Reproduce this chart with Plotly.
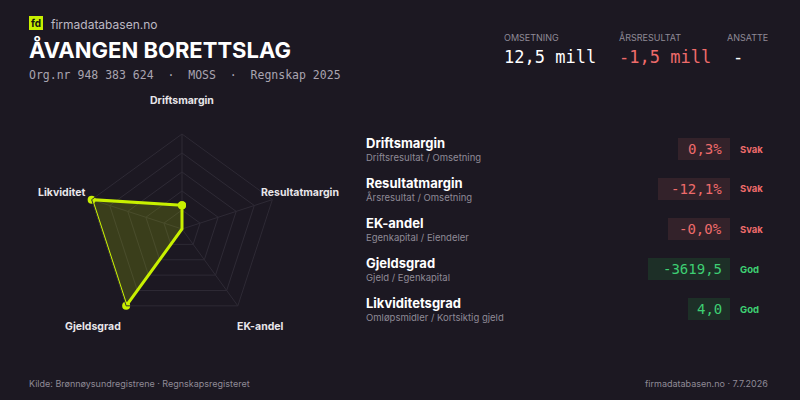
import plotly.graph_objects as go

axes = ["Driftsmargin", "Resultatmargin", "EK-andel", "Gjeldsgrad", "Likviditet"]
scores = [25, 0, 0, 100, 100]

metric_names = ["Driftsmargin", "Resultatmargin", "EK-andel", "Gjeldsgrad", "Likviditetsgrad"]
metric_desc = ["Driftsresultat / Omsetning", "Årsresultat / Omsetning", "Egenkapital / Eiendeler",
               "Gjeld / Egenkapital", "Omløpsmidler / Kortsiktig gjeld"]
metric_vals = ["0,3%", "-12,1%", "-0,0%", "-3619,5", "4,0"]
metric_status = ["Svak", "Svak", "Svak", "God", "God"]

header_labels = ["OMSETNING", "ÅRSRESULTAT", "ANSATTE"]
header_vals = ["12,5 mill", "-1,5 mill", "-"]

BG = "#1c1822"
LIME = "#c8f000"
RED = "#ee6b6b"
GREEN = "#3ecf73"
SANS = "Inter, Noto Sans, sans-serif"
MONO = "DejaVu Sans Mono, monospace"

fig = go.Figure()
fig.add_trace(go.Scatterpolar(
    r=scores + scores[:1], theta=axes + axes[:1], fill="toself",
    fillcolor="rgba(200,240,0,0.18)", line=dict(color=LIME, width=3),
    marker=dict(size=8, color=LIME), mode="lines+markers", hoverinfo="skip"))

fig.update_layout(
    width=800, height=400, paper_bgcolor=BG, plot_bgcolor=BG,
    margin=dict(l=0, r=0, t=0, b=0), showlegend=False,
    polar=dict(
        bgcolor=BG, gridshape="linear",
        domain=dict(x=[0.10875, 0.34625], y=[0.19, 0.665]),
        radialaxis=dict(range=[0, 100], tickvals=[20, 40, 60, 80, 100], showticklabels=False,
                        gridcolor="#2e2a35", linecolor="rgba(0,0,0,0)", ticks=""),
        angularaxis=dict(direction="clockwise", rotation=90, showticklabels=False, ticks="",
                         gridcolor="#2e2a35", linecolor="#2e2a35"),
    ),
)

ann = []
def txt(x, y, s, size, color, font=SANS, anchor="left", bold=False):
    ann.append(dict(x=x / 800, y=1 - y / 400, xref="paper", yref="paper", text=f"<b>{s}</b>" if bold else s,
                    showarrow=False, xanchor=anchor, yanchor="middle",
                    font=dict(size=size, color=color, family=font)))

# header
fig.add_shape(type="rect", x0=29/800, x1=43/800, y0=1-16/400, y1=1-30/400, xref="paper", yref="paper",
              fillcolor=LIME, line=dict(width=0))
txt(36, 23, "fd", 10, "#111", anchor="center", bold=True)
txt(49, 24, "firmadatabasen.no", 12, "#bdb8c4")
txt(27, 49, "ÅVANGEN BORETTSLAG", 22, "#ffffff", bold=True)
txt(27, 75, "Org.nr 948 383 624  ·  MOSS  ·  Regnskap 2025", 11.5, "#a9a4b0", font=MONO)
hx = [502, 617, 770]
for i, (l, v) in enumerate(zip(header_labels, header_vals)):
    a = "right" if i == 2 else "left"
    txt(hx[i], 37, l, 9, "#8f8a96", anchor=a)
    txt(hx[i] if i < 2 else 731, 57, v, 17, RED if v.startswith("-") and i == 1 else "#ffffff", font=MONO,
        anchor="left")

# radar labels
for s, (x, y) in zip(axes, [(182, 101), (300, 193), (260, 326), (93, 326), (62, 193)]):
    txt(x, y, s, 10.5, "#e8e6ea", anchor="center", bold=True)

# table
for i in range(5):
    y = 143 + 40 * i
    txt(364, y, metric_names[i], 13, "#ffffff", bold=True)
    txt(364, y + 14, metric_desc[i], 9.5, "#8f8a96")
    good = metric_status[i] == "God"
    c = GREEN if good else RED
    w = 12 + 10 * len(metric_vals[i])
    fig.add_shape(type="rect", x0=(730 - w) / 800, x1=730 / 800, y0=1 - (y - 5) / 400, y1=1 - (y + 17) / 400,
                  xref="paper", yref="paper", fillcolor="#1d2f27" if good else "#33222a",
                  line=dict(width=0), layer="below")
    txt(724, y + 6, metric_vals[i], 14, c, font=MONO, anchor="right")
    txt(738, y + 6, metric_status[i], 9.5, c, bold=True)

txt(27, 383, "Kilde: Brønnøysundregistrene · Regnskapsregisteret", 9, "#8f8a96")
txt(770, 383, "firmadatabasen.no · 7.7.2026", 9, "#8f8a96", anchor="right")

fig.update_layout(annotations=ann)
fig.write_html("out.html", config={"displayModeBar": False},
               post_script="document.body.style.margin='0';")
